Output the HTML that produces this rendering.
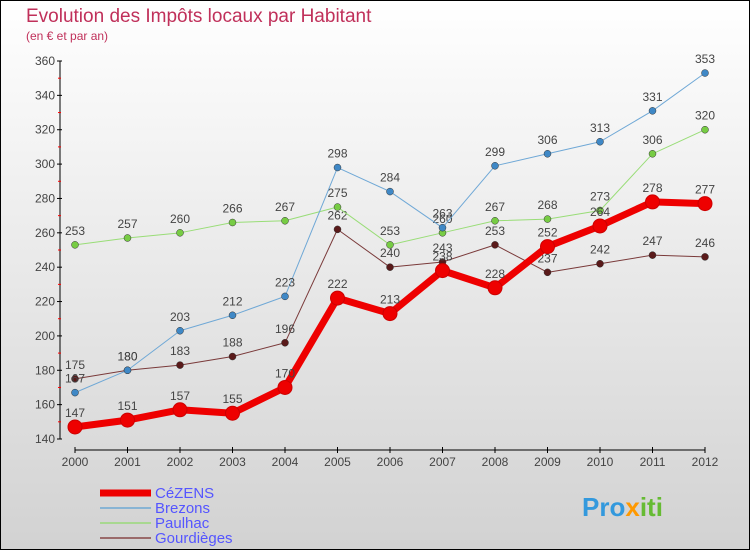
<!DOCTYPE html>
<html><head><meta charset="utf-8"><style>
body{margin:0}
svg{display:block;font-family:"Liberation Sans",sans-serif}
</style></head><body>
<svg id="c" width="750" height="550">
<defs><linearGradient id="bg" x1="0" y1="0" x2="0" y2="1"><stop offset="0" stop-color="#ffffff"/><stop offset="1" stop-color="#d2d2d2"/></linearGradient></defs>
<rect x="0.5" y="0.5" width="749" height="549" fill="url(#bg)" stroke="#000"/>
<text x="26" y="22" font-size="19" fill="#c0305a">Evolution des Impôts locaux par Habitant</text>
<text x="26" y="40" font-size="12" fill="#c0305a">(en € et par an)</text>
<g id="axes"></g><g id="series"></g><g id="legend"></g>
<text x="582" y="516" font-size="26" font-weight="bold" fill="#3399dd">Pro<tspan fill="#ff9900">x</tspan><tspan fill="#66bb33">iti</tspan></text>
</svg>
<script>
const years=["2000","2001","2002","2003","2004","2005","2006","2007","2008","2009","2010","2011","2012"];
const yTicks=[140,160,180,200,220,240,260,280,300,320,340,360];
const cezens=[147,151,157,155,170,222,213,238,228,252,264,278,277];
const brezons=[167,180,203,212,223,298,284,263,299,306,313,331,353];
const paulhac=[253,257,260,266,267,275,253,260,267,268,273,306,320];
const gourdieges=[175,180,183,188,196,262,240,243,253,237,242,247,246];
const NS="http://www.w3.org/2000/svg";
function xs(i){return 75+i*52.5;}
function ys(v){return 439-(v-140)*(378/220);}
function mk(t,a,p){const e=document.createElementNS(NS,t);for(const k in a)e.setAttribute(k,a[k]);(p||document.getElementById('axes')).appendChild(e);return e;}
const ax=document.getElementById('axes');
let e=mk('line',{x1:60,y1:61,x2:60,y2:439,stroke:'#000'});


yTicks.forEach((v,i)=>{const y=ys(v);
 mk('line',{x1:57,y1:y,x2:62,y2:y,stroke:'#000'});
 if(i<yTicks.length-1)mk('line',{x1:58,y1:ys(v+10),x2:61,y2:ys(v+10),stroke:'#f00'});
 const t=mk('text',{x:55,y:y+4,'text-anchor':'end','font-size':12,fill:'#444'});t.textContent=v;
 
 
});
e=mk('line',{x1:75,y1:450,x2:705,y2:450,stroke:'#000'});


years.forEach((yr,i)=>{const x=xs(i);
 mk('line',{x1:x,y1:447,x2:x,y2:453,stroke:'#000'});
 const t=mk('text',{x:x,y:466,'text-anchor':'middle','font-size':12,fill:'#444'});t.textContent=yr;
 
 
});
const sg=document.getElementById('series');
const series=[
 {n:'gourdieges',d:gourdieges,c:'#7a3a3a',f:'#5a1a1a',w:1,r:3.5,label:'Gourdièges'},
 {n:'paulhac',d:paulhac,c:'#99dd77',f:'#77cc44',w:1,r:3.5,label:'Paulhac'},
 {n:'brezons',d:brezons,c:'#6fa8d6',f:'#3f88c6',w:1,r:3.5,label:'Brezons'},
 {n:'cezens',d:cezens,c:'#ee0000',f:'#ee0000',w:7,r:7,label:'CéZENS'}];
series.forEach(s=>{
 const g=mk('g',{},sg);
 
 
 const p=mk('polyline',{points:s.d.map((v,i)=>xs(i)+','+ys(v)).join(' '),fill:'none',stroke:s.c,'stroke-width':s.w,'stroke-linejoin':'round'},g);
 
 
 s.d.forEach((v,i)=>{
  const c=mk('circle',{cx:xs(i),cy:ys(v),r:s.r,fill:s.f,stroke:s.n==='cezens'?'#cc0000':'#333','stroke-width':s.n==='cezens'?1:0.5},g);
  
  
  const t=mk('text',{x:xs(i),y:ys(v)-10,'text-anchor':'middle','font-size':12,fill:'#444'},g);t.textContent=v;
  
  
 });
});
const lg=document.getElementById('legend');
const leg=[{l:'CéZENS',c:'#ee0000',w:7},{l:'Brezons',c:'#88b4d4',w:2},{l:'Paulhac',c:'#a8d890',w:2},{l:'Gourdièges',c:'#9a6a6a',w:2}];
leg.forEach((L,i)=>{const y=493+i*15;
 const ln=mk('line',{x1:100,y1:y,x2:151,y2:y,stroke:L.c,'stroke-width':L.w},lg);
 
 
 const t=mk('text',{x:155,y:y+5,'font-size':15,fill:'#5555ff'},lg);t.textContent=L.l;
 
 
});
</script>
</body></html>
